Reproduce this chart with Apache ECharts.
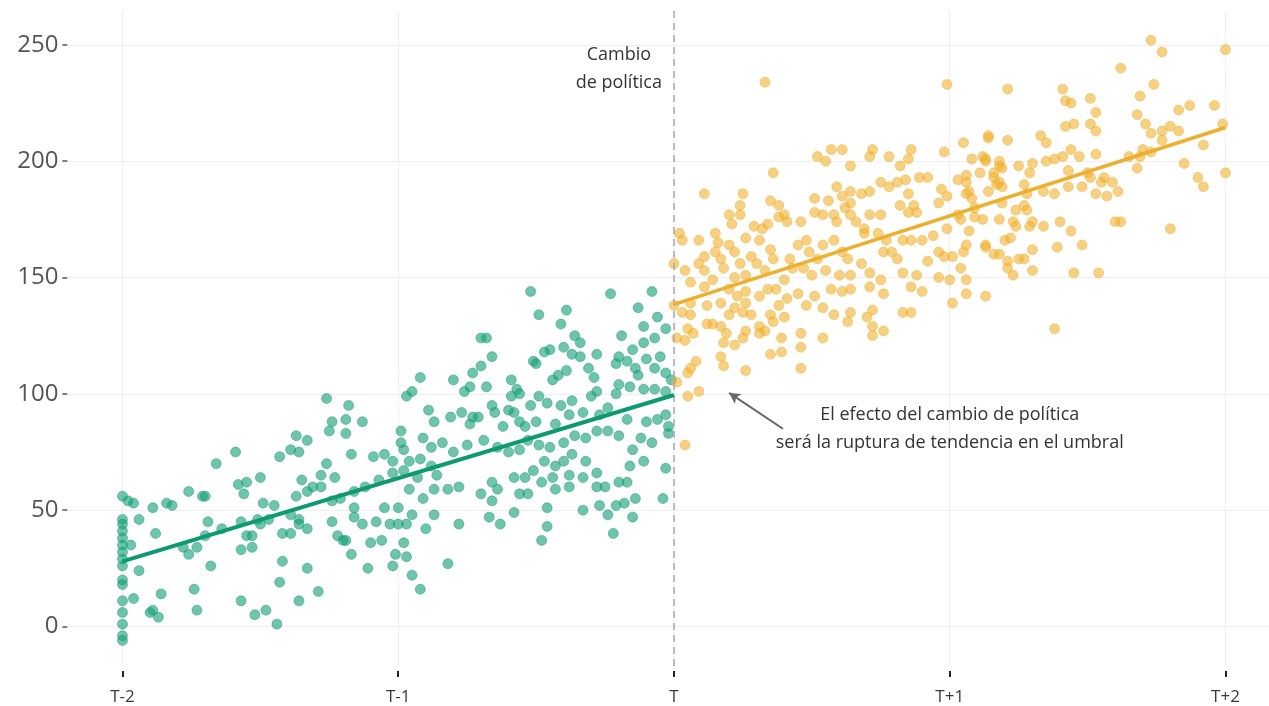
<!DOCTYPE html>
<html>
<head>
<meta charset="utf-8">
<script src="https://cdn.jsdelivr.net/npm/echarts@6/dist/echarts.min.js"></script>
<style>html,body{margin:0;padding:0;background:#fff}#c{width:1269px;height:706px}</style>
</head>
<body>
<div id="c"></div>
<script>
// ---- data ----
const xTickValues = [-2, -1, 0, 1, 2];
const xTickLabels = ['T-2', 'T-1', 'T', 'T+1', 'T+2'];
const yTickValues = [0, 50, 100, 150, 200, 250];
const policyChangeAt = 0;

// before the policy change (green)
const beforePoints = [
[-1.26,98],[-1.18,95],[-1.24,88],[-1.19,89],[-1.13,88],[-1.25,84],[-1.19,83],[-1.37,82],[-1.33,80],[-1.17,74],[-1.43,73],[-1.39,76],[-1.36,75],[-1.59,75],[-1.66,70],[-1.26,70],[-1.09,73],[-1.05,74],[-1.35,63],[-1.28,65],[-1.23,64],[-1.50,64],[-1.58,61],[-1.55,62],[-1.56,57],[-1.76,58],[-1.71,56],[-1.70,56],[-1.37,56],[-1.33,58],[-1.31,60],[-1.28,60],[-2,56],[-1.98,54],[-1.96,53],[-1.89,51],[-1.84,53],[-1.82,52],[-1.49,53],[-1.45,52],[-1.24,54],[-1.16,58],[-1.12,60],[-1.07,63],[-1.21,55],[-1.16,51],[-1.16,47],[-1.13,44],[-1.08,45],[-1.05,51],[-1.24,45],[-1.94,46],[-1.69,45],[-1.64,42],[-1.57,45],[-1.51,46],[-1.50,44],[-1.47,46],[-1.39,48],[-1.36,46],[-1.36,44],[-1.33,42],[-1.42,40],[-1.39,40],[-1.55,39],[-1.53,39],[-1.53,34],[-1.57,33],[-1.70,39],[-1.78,34],[-1.76,31],[-1.73,34],[-1.88,40],[-1.97,35],[-1.94,24],[-1.22,39],[-1.20,37],[-1.19,37],[-1.10,36],[-1.06,37],[-1.17,31],[-1.11,25],[-1.42,28],[-1.33,25],[-1.68,26],[-1.74,16],[-1.86,14],[-1.96,12],[-1.43,19],[-1.29,15],[-1.36,11],[-1.57,11],[-1.73,7],[-1.48,7],[-1.52,5],[-1.44,1],[-1.90,6],[-1.89,7],[-1.87,4],
[-2,46],[-2,44],[-2,41],[-2,38],[-2,35],[-2,32],[-2,29],[-2,26],[-2,20],[-2,18],[-2,11],[-2,6],[-2,1],[-2,-4],[-2,-6],
[-0.52,144],[-0.23,143],[-0.08,144],[-0.49,134],[-0.39,136],[-0.41,130],[-0.13,137],[-0.06,133],[-0.11,129],[-0.03,128],[-0.19,125],[-0.36,125],[-0.34,122],[-0.70,124],[-0.68,124],[-0.47,118],[-0.45,119],[-0.40,120],[-0.37,117],[-0.34,116],[-0.28,117],[-0.20,116],[-0.15,119],[-0.11,122],[-0.07,124],[-0.10,115],[-0.05,116],[-0.51,114],[-0.50,113],[-0.66,116],[-0.70,112],[-0.73,109],[-0.92,107],[-0.80,106],[-0.68,103],[-0.74,103],[-0.76,101],[-0.95,101],[-0.97,99],[-0.59,106],[-0.57,102],[-0.59,99],[-0.56,100],[-0.44,106],[-0.42,108],[-0.39,110],[-0.31,111],[-0.29,107],[-0.21,113],[-0.17,114],[-0.14,111],[-0.13,108],[-0.07,111],[-0.03,109],[-0.01,106],[-0.20,104],[-0.16,103],[-0.11,102],[-0.07,102],[-0.03,101],[-0.21,100],[-0.28,101],[-0.30,99],[-0.37,97],[-0.41,95],[-0.46,96],[-0.49,99],[-0.52,95],[-0.66,95],[-0.65,92],[-0.60,93],[-0.58,92],[-0.89,93],[-0.87,88],[-0.81,90],[-0.77,92],[-0.73,90],[-0.71,90],[-0.74,87],[-0.62,86],[-0.56,88],[-0.54,86],[-0.50,88],[-0.43,87],[-0.38,91],[-0.33,92],[-0.27,91],[-0.24,94],[-0.17,89],[-0.10,88],[-0.06,89],[-0.03,91],[-0.02,86],[-0.02,83],[-0.24,84],[-0.20,82],[-0.12,81],[-0.08,79],[-0.11,71],[-0.15,76],[-0.28,84],[-0.32,81],[-0.36,82],[-0.40,79],[-0.45,77],[-0.49,78],[-0.53,80],[-0.56,76],[-0.60,75],[-0.64,77],[-0.69,80],[-0.75,78],[-0.80,75],[-0.84,79],[-0.88,77],[-0.91,81],[-0.99,84],[-0.99,79],[-0.98,76],[-1.02,71],[-0.96,71],[-0.92,72],[-0.88,69],[-0.86,65],[-0.93,64],[-0.98,67],[-1.02,66],[-0.96,59],[-0.91,55],[-0.87,59],[-0.82,59],[-0.78,60],[-0.70,57],[-0.66,62],[-0.64,59],[-0.66,54],[-0.58,64],[-0.54,64],[-0.51,67],[-0.47,71],[-0.43,69],[-0.40,71],[-0.37,74],[-0.32,71],[-0.28,66],[-0.38,65],[-0.44,64],[-0.48,62],[-0.56,57],[-0.53,57],[-0.43,59],[-0.38,60],[-0.33,64],[-0.28,60],[-0.25,60],[-0.20,62],[-0.17,62],[-0.16,69],[-0.03,68],[-0.04,55],[-0.14,55],[-0.18,53],[-0.21,52],[-0.27,52],[-0.33,50],[-0.24,48],[-0.15,47],[-0.46,51],[-0.46,43],[-0.48,37],[-0.22,40],[-0.58,49],[-0.63,44],[-0.67,47],[-0.78,44],[-0.87,48],[-0.90,42],[-0.95,48],[-1.00,51],[-1.03,44],[-1.00,44],[-0.97,44],[-0.98,36],[-0.97,30],[-1.01,31],[-1.02,26],[-0.82,27],[-0.95,22],[-0.92,16]
];

// after the policy change (orange)
const afterPoints = [
[0.33,234],[0.99,233],[1.05,208],[0.98,204],[0.52,202],[0.57,205],[0.61,205],[0.55,200],[0.64,198],[0.72,205],[0.71,202],[0.78,202],[0.82,198],[0.85,201],[0.86,205],[0.36,195],[0.11,186],[0.25,186],[0.24,181],[0.35,183],[0.20,177],[0.21,173],[0.24,177],[0.38,181],[0.40,177],[0.38,176],[0.41,174],[0.46,174],[0.51,184],[0.51,178],[0.54,177],[0.56,183],[0.59,189],[0.61,185],[0.64,187],[0.68,186],[0.71,187],[0.64,182],[0.62,180],[0.64,177],[0.58,177],[0.59,174],[0.66,174],[0.69,171],[0.71,177],[0.75,177],[0.75,191],[0.78,189],[0.81,191],[0.84,192],[0.89,193],[0.92,193],[0.85,186],[0.82,181],[0.87,181],[0.85,178],[0.88,178],[0.97,188],[0.96,182],[0.99,185],[1.03,192],[1.06,191],[1.06,186],[1.03,177],[1.07,170],[0.02,169],[0.03,166],[0.09,166],[0.15,169],[0.16,165],[0.11,159],[0.09,156],[0.15,161],[0.17,158],[0.20,164],[0.22,161],[0.26,167],[0.29,172],[0.32,171],[0.34,173],[0.31,166],[0.35,162],[0.36,158],[0.28,159],[0.24,156],[0.00,156],[0.04,153],[0.11,153],[0.18,154],[0.22,150],[0.26,151],[0.30,156],[0.33,153],[0.06,148],[0.11,146],[0.14,149],[0.20,145],[0.23,142],[0.26,144],[0.31,142],[0.34,145],[0.37,145],[0.40,149],[0.42,158],[0.45,164],[0.48,166],[0.49,161],[0.52,158],[0.47,154],[0.43,154],[0.50,151],[0.55,153],[0.54,164],[0.58,166],[0.61,161],[0.63,158],[0.60,151],[0.64,151],[0.68,156],[0.71,152],[0.69,169],[0.74,169],[0.77,166],[0.79,161],[0.76,161],[0.81,158],[0.83,166],[0.86,166],[0.90,166],[0.94,168],[0.99,171],[0.96,161],[0.92,157],[0.98,159],[1.01,159],[1.04,154],[1.05,161],[0.88,151],[0.83,152],[0.96,150],[1.00,149],[1.06,149],[1.06,143],[1.01,139],[0.90,144],[0.86,146],[0.86,135],[0.83,135],[0.76,143],[0.75,149],[0.71,146],[0.64,145],[0.61,144],[0.57,145],[0.54,137],[0.51,142],[0.48,138],[0.45,143],[0.41,141],[0.38,138],[0.35,134],[0.40,133],[0.36,131],[0.33,127],[0.31,126],[0.39,124],[0.46,126],[0.46,120],[0.35,117],[0.39,118],[0.46,111],[0.54,124],[0.58,134],[0.63,131],[0.64,135],[0.70,133],[0.72,136],[0.72,129],[0.76,127],[0.72,125],[0.26,139],[0.25,135],[0.28,134],[0.22,137],[0.17,139],[0.12,138],[0.06,139],[0.03,135],[0.06,134],[0.20,134],[0.14,130],[0.12,130],[0.17,129],[0.19,126],[0.18,122],[0.22,121],[0.25,124],[0.26,127],[0.31,129],[0.05,128],[0.07,126],[0.04,123],[0.01,124],[0.08,114],[0.17,116],[0.18,112],[0.26,110],[0.05,109],[0.06,111],[0.01,105],[0.05,99],[0.09,101],[0.04,78],[0.00,138],
[1.73,252],[1.77,247],[2.00,248],[1.62,240],[1.21,231],[1.74,233],[1.41,231],[1.42,226],[1.44,225],[1.51,227],[1.53,221],[1.69,228],[1.68,220],[1.71,216],[1.73,212],[1.77,213],[1.77,209],[1.80,215],[1.83,213],[1.83,222],[1.87,224],[1.96,224],[1.99,216],[1.92,207],[1.85,199],[1.90,193],[1.92,189],[2.00,195],[1.80,171],[1.42,215],[1.45,216],[1.51,216],[1.53,213],[1.33,211],[1.35,208],[1.21,209],[1.14,211],[1.14,210],[1.08,201],[1.12,202],[1.13,201],[1.13,200],[1.18,200],[1.18,198],[1.19,197],[1.25,198],[1.30,199],[1.29,195],[1.35,200],[1.38,201],[1.41,202],[1.44,205],[1.47,202],[1.53,203],[1.43,196],[1.50,195],[1.51,193],[1.56,193],[1.59,191],[1.55,191],[1.65,202],[1.70,205],[1.73,204],[1.68,197],[1.69,202],[1.11,195],[1.16,195],[1.16,193],[1.18,191],[1.19,189],[1.17,190],[1.06,194],[1.07,187],[1.08,184],[1.14,187],[1.27,190],[1.28,186],[1.34,187],[1.38,186],[1.43,189],[1.48,189],[1.53,186],[1.57,185],[1.61,187],[1.19,182],[1.27,181],[1.28,179],[1.24,179],[1.09,180],[1.09,176],[1.12,175],[1.18,175],[1.23,174],[1.24,172],[1.29,172],[1.30,174],[1.34,172],[1.40,174],[1.44,170],[1.60,174],[1.62,174],[1.04,175],[1.20,166],[1.22,167],[1.13,164],[1.13,163],[1.06,164],[1.16,160],[1.18,160],[1.30,162],[1.39,163],[1.48,164],[1.21,157],[1.25,158],[1.27,158],[1.21,154],[1.23,151],[1.30,153],[1.45,152],[1.54,152],[1.13,142],[1.38,128]
];

// fitted trend lines
const beforeTrend = [[-2, 28], [0, 99.5]];
const afterTrend = [[0, 138.5], [2, 214.5]];

// annotation texts
const noteTop = 'Cambio\nde política';
const noteEffect = 'El efecto del cambio de política\nserá la ruptura de tendencia en el umbral';

// ---- chart ----
const GREEN = '#18a078';
const ORANGE = '#f0b030';
const FONT = '"Open Sans", "Liberation Sans", sans-serif';

const chart = echarts.init(document.getElementById('c'), null, { renderer: 'canvas' });

chart.setOption({
  animation: false,
  backgroundColor: '#ffffff',
  grid: { left: 67.35, right: 0, top: 10.05, bottom: 38.04, containLabel: false },
  xAxis: {
    type: 'value', min: -2.2, max: 2.1578,
    offset: 5,
    axisLine: { show: false, onZero: false },
    axisTick: { show: true, length: 6, customValues: xTickValues, lineStyle: { color: '#222', width: 2 } },
    axisLabel: {
      customValues: xTickValues, margin: 18,
      formatter: v => xTickLabels[xTickValues.indexOf(Math.round(v))] ?? '',
      color: '#3a3a3a', fontSize: 17, fontFamily: FONT
    },
    splitLine: { show: true, lineStyle: { color: '#efefef', width: 1 } }
  },
  yAxis: {
    type: 'value', min: -17, max: 265,
    axisLine: { show: false, onZero: false },
    axisTick: { show: true, length: 5, customValues: yTickValues, lineStyle: { color: '#555', width: 1.5 } },
    axisLabel: { customValues: yTickValues, margin: 9, color: '#555', fontSize: 24, fontFamily: FONT },
    splitLine: { show: true, lineStyle: { color: '#efefef', width: 1 } }
  },
  series: [
    {
      type: 'scatter', name: 'antes', data: beforePoints, symbolSize: 10, z: 2,
      itemStyle: { color: GREEN, opacity: 0.62, borderColor: GREEN, borderWidth: 0.8 },
      markLine: {
        silent: true, symbol: ['none', 'none'], label: { show: false },
        lineStyle: { color: '#a8a8a8', type: [7, 5], width: 1.5 },
        data: [{ xAxis: policyChangeAt }]
      }
    },
    {
      type: 'scatter', name: 'después', data: afterPoints, symbolSize: 10, z: 2,
      itemStyle: { color: ORANGE, opacity: 0.6, borderColor: ORANGE, borderWidth: 0.8 }
    },
    {
      type: 'line', data: beforeTrend, symbol: 'none', z: 5,
      lineStyle: { color: '#0d9a70', width: 4 }
    },
    {
      type: 'line', data: afterTrend, symbol: 'none', z: 5,
      lineStyle: { color: '#efae2c', width: 3.5 },
      markLine: {
        silent: true, symbol: ['none', 'arrow'], symbolSize: [9, 11], label: { show: false },
        lineStyle: { color: '#666', type: 'solid', width: 2 },
        data: [[{ coord: [0.395, 85] }, { coord: [0.2, 100.4] }]]
      }
    }
  ]
});

function placeNotes() {
  const p1 = chart.convertToPixel({ gridIndex: 0 }, [-0.2, 239.7]);
  const p2 = chart.convertToPixel({ gridIndex: 0 }, [1.0, 85]);
  chart.setOption({
    graphic: [
      { type: 'text', x: p1[0], y: p1[1], z: 10,
        style: { text: noteTop, fill: '#333', font: '18px ' + FONT, align: 'center', verticalAlign: 'middle', lineHeight: 28 } },
      { type: 'text', x: p2[0], y: p2[1], z: 10,
        style: { text: noteEffect, fill: '#333', font: '18px ' + FONT, align: 'center', verticalAlign: 'middle', lineHeight: 28 } }
    ]
  });
}
placeNotes();
</script>
</body>
</html>
